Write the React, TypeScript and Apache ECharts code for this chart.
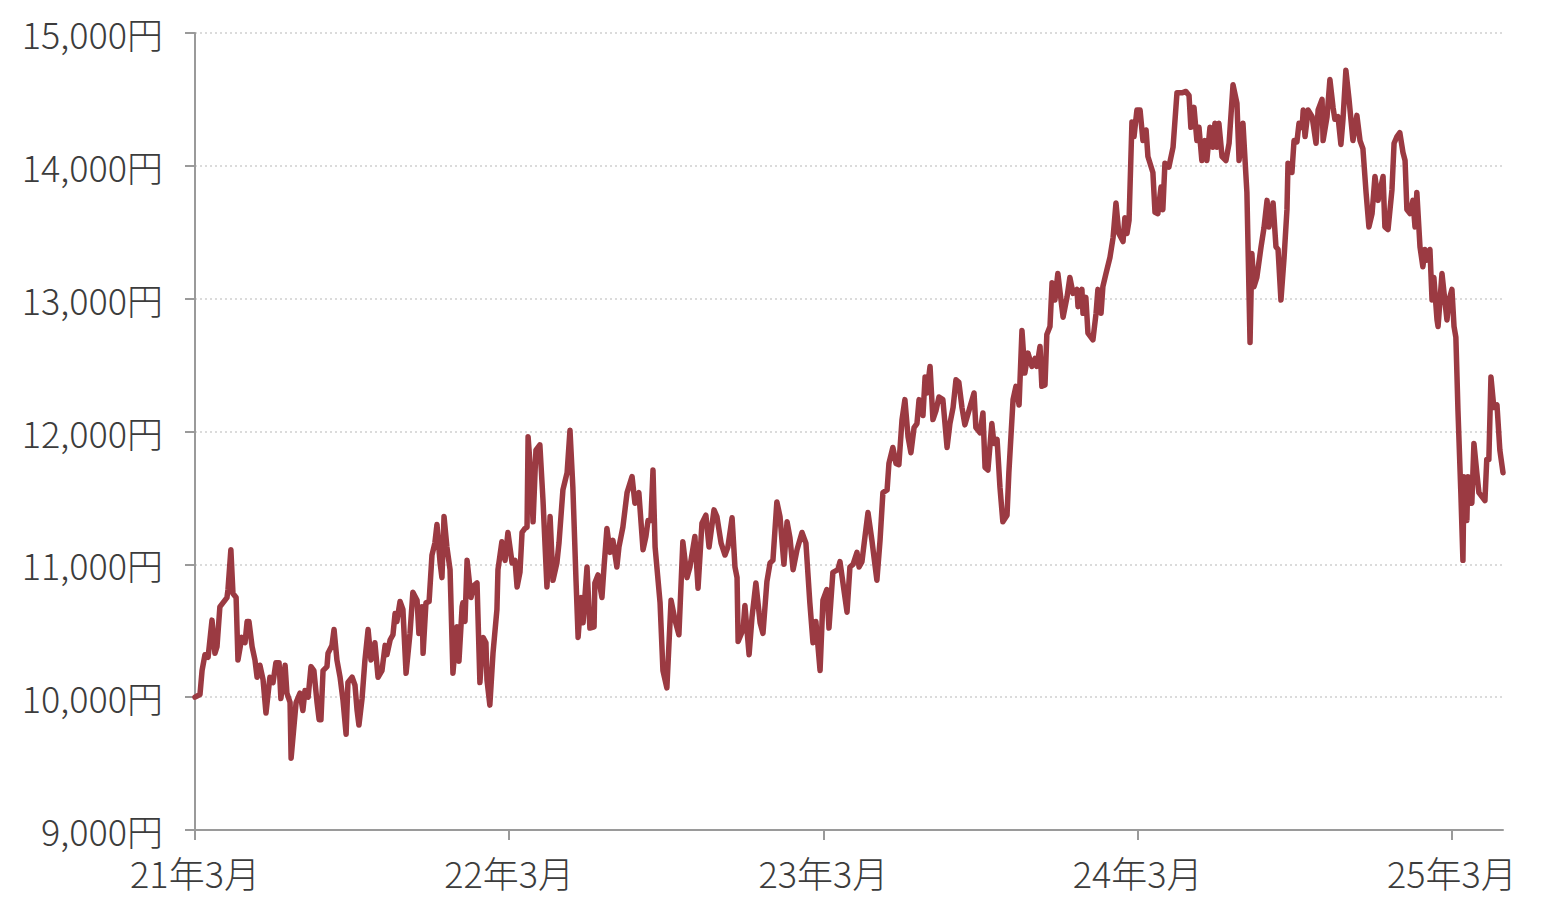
import React, { useEffect, useRef } from "react";
import * as echarts from "echarts";

// Months elapsed since March 2021 (x position of each observation)
const months: number[] = [
  0, 0.19, 0.27, 0.38, 0.5, 0.65, 0.76, 0.84, 0.95, 1.22, 1.26, 1.37, 1.45, 1.57, 1.64, 1.79, 1.91, 1.99, 2.06, 2.18,
  2.29, 2.37, 2.48, 2.6, 2.71, 2.86, 2.98, 3.09, 3.21, 3.28, 3.44, 3.51, 3.63, 3.67, 3.86, 4.01, 4.12, 4.2, 4.32, 4.43,
  4.54, 4.66, 4.74, 4.81, 4.89, 5.04, 5.08, 5.23, 5.31, 5.42, 5.54, 5.65, 5.77, 5.84, 6.0, 6.11, 6.19, 6.26, 6.38, 6.49,
  6.61, 6.72, 6.8, 6.87, 6.99, 7.14, 7.26, 7.33, 7.45, 7.56, 7.64, 7.71, 7.83, 7.94, 8.06, 8.21, 8.32, 8.48, 8.55, 8.67,
  8.71, 8.82, 8.94, 9.05, 9.16, 9.24, 9.36, 9.43, 9.51, 9.62, 9.74, 9.85, 10.0, 10.08, 10.2, 10.23, 10.31, 10.39, 10.54, 10.65,
  10.77, 10.88, 11.0, 11.11, 11.15, 11.26, 11.38, 11.53, 11.57, 11.72, 11.84, 11.95, 12.11, 12.22, 12.3, 12.41, 12.49, 12.6, 12.68, 12.72,
  12.83, 12.91, 13.02, 13.17, 13.29, 13.44, 13.56, 13.67, 13.82, 13.9, 14.05, 14.21, 14.32, 14.43, 14.55, 14.63, 14.74, 14.82, 14.97, 15.08,
  15.24, 15.27, 15.39, 15.54, 15.62, 15.73, 15.85, 15.96, 16.11, 16.19, 16.34, 16.5, 16.69, 16.8, 16.95, 17.11, 17.22, 17.3, 17.41, 17.49,
  17.57, 17.76, 17.87, 18.02, 18.18, 18.33, 18.48, 18.63, 18.79, 18.9, 19.09, 19.21, 19.36, 19.51, 19.63, 19.82, 19.93, 20.09, 20.24, 20.35,
  20.51, 20.62, 20.7, 20.74, 20.93, 21.0, 21.16, 21.27, 21.42, 21.58, 21.69, 21.84, 21.96, 22.07, 22.22, 22.34, 22.49, 22.61, 22.72, 22.84,
  22.99, 23.18, 23.33, 23.48, 23.6, 23.71, 23.87, 23.98, 24.13, 24.21, 24.36, 24.55, 24.63, 24.9, 25.01, 25.13, 25.28, 25.36, 25.47, 25.58,
  25.7, 25.85, 26.04, 26.16, 26.27, 26.43, 26.5, 26.65, 26.77, 26.88, 27.0, 27.11, 27.23, 27.34, 27.46, 27.57, 27.65, 27.8, 27.88, 27.95,
  28.07, 28.18, 28.3, 28.41, 28.56, 28.72, 28.83, 28.95, 29.06, 29.17, 29.29, 29.4, 29.59, 29.75, 29.82, 29.98, 30.09, 30.17, 30.28, 30.43,
  30.51, 30.63, 30.74, 30.85, 31.01, 31.08, 31.24, 31.35, 31.47, 31.58, 31.69, 31.81, 31.96, 32.08, 32.15, 32.27, 32.34, 32.46, 32.53, 32.65,
  32.73, 32.84, 32.95, 33.15, 33.3, 33.41, 33.53, 33.68, 33.72, 33.87, 33.91, 34.02, 34.1, 34.29, 34.41, 34.48, 34.6, 34.67, 34.79, 34.94,
  35.06, 35.17, 35.28, 35.44, 35.51, 35.59, 35.67, 35.78, 35.86, 35.97, 36.09, 36.2, 36.32, 36.39, 36.58, 36.66, 36.77, 36.89, 36.96, 37.04,
  37.19, 37.35, 37.5, 37.69, 37.84, 37.96, 38.03, 38.15, 38.26, 38.34, 38.45, 38.57, 38.64, 38.76, 38.87, 38.95, 39.03, 39.1, 39.22, 39.37,
  39.49, 39.64, 39.79, 39.87, 40.02, 40.1, 40.17, 40.29, 40.36, 40.44, 40.55, 40.71, 40.82, 40.94, 41.01, 41.17, 41.28, 41.36, 41.47, 41.59,
  41.7, 41.74, 41.89, 41.97, 42.08, 42.16, 42.28, 42.32, 42.39, 42.51, 42.66, 42.81, 42.89, 43.04, 43.08, 43.23, 43.34, 43.46, 43.53, 43.65,
  43.76, 43.84, 43.95, 44.07, 44.22, 44.3, 44.37, 44.49, 44.6, 44.72, 44.83, 44.95, 45.06, 45.18, 45.37, 45.44, 45.56, 45.71, 45.79, 45.9,
  46.01, 46.13, 46.21, 46.28, 46.4, 46.51, 46.59, 46.66, 46.78, 46.89, 46.97, 47.05, 47.16, 47.24, 47.31, 47.43, 47.47, 47.62, 47.7, 47.81,
  47.89, 48.0, 48.08, 48.15, 48.23, 48.34, 48.42, 48.46, 48.57, 48.61, 48.76, 48.84, 48.95, 49.03, 49.26, 49.33, 49.41, 49.49, 49.6, 49.72,
  49.83, 49.95,
];

// Price (円) at each observation
const prices: number[] = [
  10000, 10020, 10200, 10320, 10300, 10580, 10330, 10380, 10680, 10750, 10810, 11110, 10780, 10750, 10280, 10450, 10410, 10570, 10570, 10380,
  10280, 10150, 10240, 10130, 9880, 10150, 10110, 10260, 10260, 9990, 10240, 10030, 9960, 9540, 9960, 10030, 9900, 10050, 10000, 10230,
  10200, 9960, 9830, 9830, 10200, 10230, 10330, 10390, 10510, 10280, 10150, 9980, 9720, 10110, 10150, 10090, 9900, 9790, 9990, 10280,
  10510, 10280, 10330, 10410, 10150, 10200, 10390, 10320, 10430, 10470, 10630, 10570, 10720, 10660, 10180, 10480, 10790, 10730, 10480, 10680,
  10330, 10710, 10720, 11070, 11160, 11300, 11010, 10900, 11360, 11130, 10960, 10180, 10530, 10270, 10680, 10710, 10570, 11030, 10750, 10840,
  10860, 10110, 10450, 10410, 10130, 9940, 10330, 10660, 10960, 11170, 11030, 11240, 11010, 11030, 10830, 10940, 11240, 11270, 11280, 11960,
  11660, 11320, 11860, 11900, 11480, 10830, 11360, 10880, 11010, 11160, 11560, 11690, 12010, 11580, 10880, 10450, 10750, 10560, 10980, 10520,
  10530, 10860, 10920, 10750, 10980, 11270, 11090, 11180, 10980, 11130, 11280, 11540, 11660, 11460, 11540, 11110, 11210, 11330, 11330, 11710,
  11130, 10710, 10200, 10070, 10730, 10580, 10470, 11170, 10900, 10980, 11210, 10820, 11310, 11370, 11130, 11410, 11360, 11160, 11070, 11130,
  11350, 10980, 10900, 10420, 10510, 10690, 10320, 10600, 10860, 10560, 10480, 10870, 11010, 11030, 11470, 11360, 11000, 11320, 11200, 10960,
  11110, 11240, 11160, 10710, 10410, 10570, 10200, 10730, 10810, 10520, 10940, 10960, 11020, 10640, 10980, 11000, 11090, 10980, 11020, 11200,
  11390, 11180, 10880, 11180, 11540, 11560, 11760, 11880, 11760, 11750, 12090, 12240, 11960, 11840, 12030, 12060, 12240, 12120, 12410, 12290,
  12490, 12090, 12160, 12260, 12240, 11880, 12060, 12180, 12390, 12370, 12180, 12050, 12180, 12290, 12030, 11990, 12140, 11730, 11710, 12060,
  11910, 11940, 11580, 11320, 11370, 11690, 12240, 12340, 12200, 12760, 12440, 12590, 12490, 12550, 12490, 12640, 12340, 12350, 12730, 12790,
  13120, 12990, 13190, 12860, 13010, 13160, 13040, 13070, 12940, 13070, 12890, 13010, 12740, 12690, 12890, 13070, 12890, 13090, 13190, 13310,
  13460, 13720, 13490, 13430, 13610, 13490, 13590, 14330, 14220, 14420, 14420, 14190, 14270, 14070, 13950, 13650, 13640, 13840, 13670, 14020,
  13990, 14140, 14550, 14550, 14560, 14530, 14290, 14440, 14190, 14290, 14040, 14190, 14040, 14290, 14140, 14320, 14140, 14320, 14070, 14040,
  14170, 14610, 14470, 14040, 14320, 14040, 13800, 12670, 13340, 13090, 13160, 13390, 13530, 13740, 13540, 13720, 13390, 13370, 12990, 13310,
  13670, 14020, 13950, 14190, 14180, 14320, 14290, 14420, 14220, 14420, 14370, 14170, 14420, 14500, 14190, 14370, 14650, 14440, 14350, 14370,
  14160, 14350, 14720, 14500, 14190, 14290, 14380, 14190, 14130, 13800, 13540, 13640, 13920, 13740, 13920, 13540, 13520, 13820, 14170, 14220,
  14250, 14100, 14040, 13670, 13640, 13740, 13540, 13800, 13390, 13240, 13370, 13290, 13370, 12990, 13160, 12840, 12790, 13190, 13040, 12840,
  12990, 13070, 12790, 12710, 12160, 11540, 11030, 11660, 11330, 11660, 11460, 11910, 11690, 11540, 11480, 11790, 11790, 12410, 12180, 12200,
  11860, 11690,
];

const yTicks: number[] = [9000, 10000, 11000, 12000, 13000, 14000, 15000];
const xStartYear = 21; // first tick: 21年3月

export default function App() {
  const ref = useRef<HTMLDivElement>(null);
  useEffect(() => {
    if (!ref.current) return;
    const chart = echarts.init(ref.current, undefined, { renderer: "svg" });
    const data = months.map((m, i) => [m, prices[i]]);
    const font = "'Noto Sans CJK JP', 'Noto Sans', sans-serif";
    chart.setOption({
      animation: false,
      backgroundColor: "#ffffff",
      grid: { left: 195, right: 63, top: 33, bottom: 83, containLabel: false },
      xAxis: {
        type: "value",
        min: 0,
        max: 49.95,
        interval: 12,
        axisLine: { show: true, lineStyle: { color: "#9a9a9a", width: 2 } },
        axisTick: { show: true, length: 10, lineStyle: { color: "#9a9a9a", width: 2 } },
        splitLine: { show: false },
        axisLabel: {
          showMaxLabel: false,
          margin: 24,
          fontSize: 36,
          fontWeight: 300,
          fontFamily: font,
          color: "#3c3c3c",
          formatter: (v: number) => (v % 12 === 0 ? `${xStartYear + v / 12}年3月` : ""),
        },
      },
      yAxis: {
        type: "value",
        min: yTicks[0],
        max: yTicks[yTicks.length - 1],
        interval: 1000,
        axisLine: { show: true, lineStyle: { color: "#9a9a9a", width: 2 } },
        axisTick: { show: true, length: 10, lineStyle: { color: "#9a9a9a", width: 2 } },
        splitLine: { show: true, lineStyle: { color: "#cfcfcf", type: [2, 3], width: 1.5 } },
        axisLabel: {
          margin: 32,
          fontSize: 36,
          fontWeight: 300,
          fontFamily: font,
          color: "#3c3c3c",
          formatter: (v: number) => `${v.toLocaleString("en-US")}円`,
        },
      },
      series: [
        {
          type: "line",
          data,
          showSymbol: false,
          symbol: "none",
          lineStyle: { color: "#9b3a42", width: 5.5, join: "round", cap: "round" },
        },
      ],
    });
    return () => chart.dispose();
  }, []);
  return <div ref={ref} style={{ position: "fixed", left: 0, top: 0, width: 1566, height: 913 }} />;
}
